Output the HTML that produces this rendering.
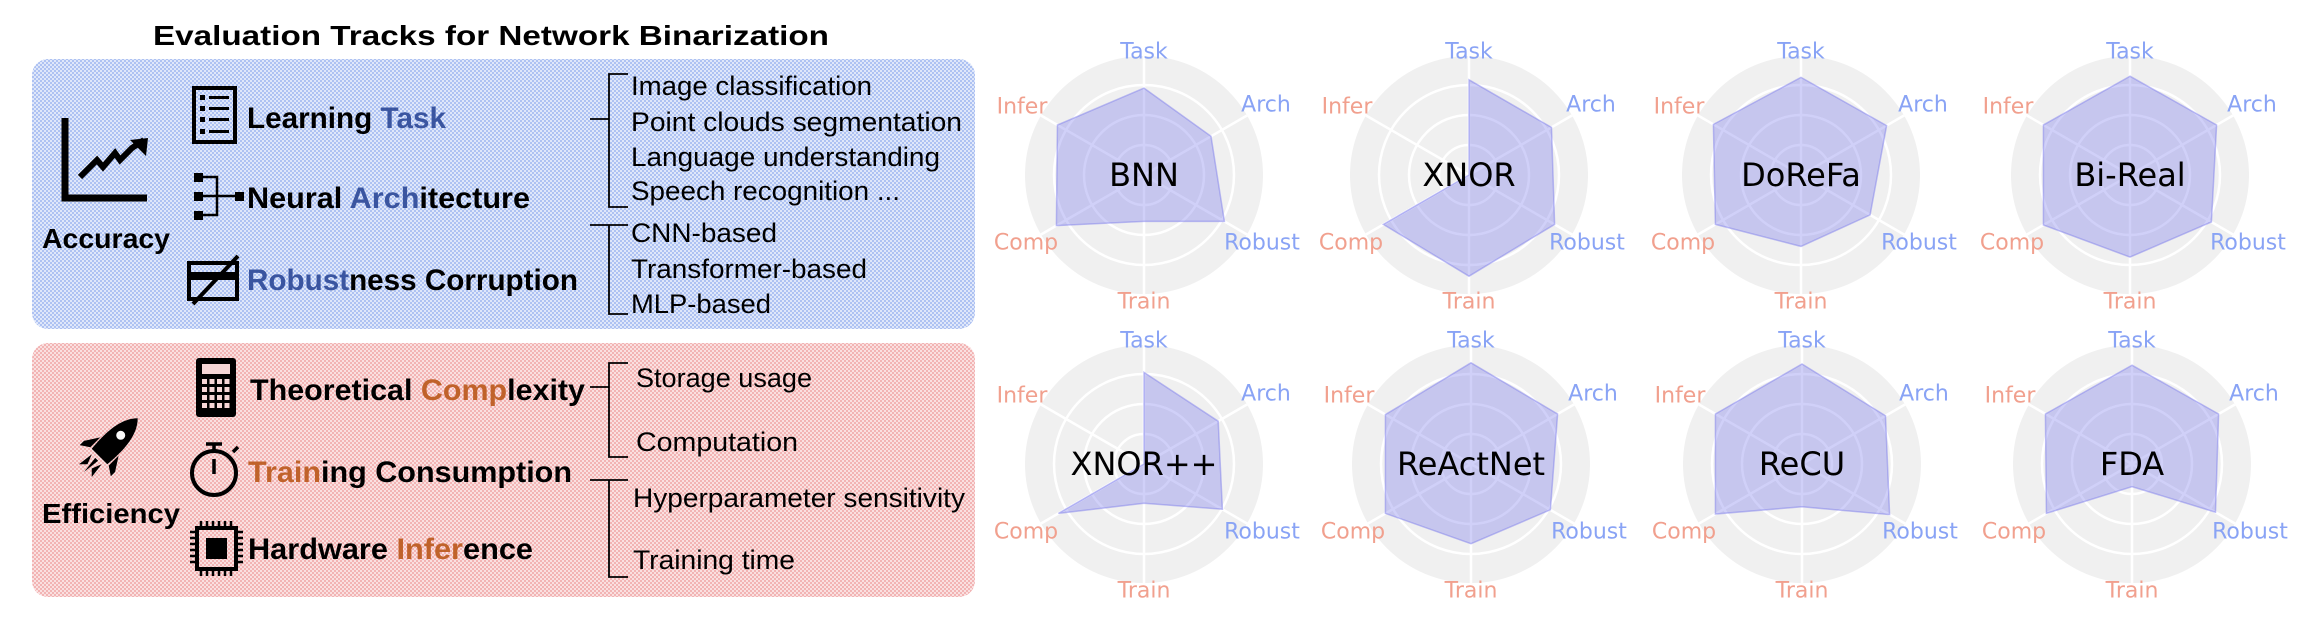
<!DOCTYPE html>
<html><head><meta charset="utf-8"><style>
html,body{margin:0;padding:0;background:#fff;}
svg{display:block;}
.L{font-family:"Liberation Sans Narrow","Liberation Sans",sans-serif;}
.R{font-family:"DejaVu Sans","Liberation Sans",sans-serif;}
.lb{fill:#89a3f5;font-size:22px;}
.lo{fill:#f1a08e;font-size:22px;}
.nm{fill:#000;font-size:32px;}
</style></head><body>
<svg width="2322" height="622" viewBox="0 0 2322 622" xmlns="http://www.w3.org/2000/svg">
<defs>
<pattern id="pb" width="4" height="4" patternUnits="userSpaceOnUse">
<rect width="4" height="4" fill="#dfe7fa"/><rect width="2" height="2" fill="#aec2f2"/><rect x="2" y="2" width="2" height="2" fill="#aec2f2"/></pattern>
<pattern id="pr" width="4" height="4" patternUnits="userSpaceOnUse">
<rect width="4" height="4" fill="#fae0e0"/><rect width="2" height="2" fill="#f2b4b4"/><rect x="2" y="2" width="2" height="2" fill="#f2b4b4"/></pattern>
<g id="bg">
<circle r="119" fill="#f0f0f0"/>
<circle r="30" fill="none" stroke="#fff" stroke-width="2.5"/>
<circle r="60" fill="none" stroke="#fff" stroke-width="2.5"/>
<circle r="90" fill="none" stroke="#fff" stroke-width="2.5"/>
<path d="M0,0V-119M0,0V119M0,0L103,-59.5M0,0L103,59.5M0,0L-103,59.5M0,0L-103,-59.5" stroke="#fff" stroke-width="2.5"/>
</g>
</defs>

<!-- LEFT PANEL -->
<text class="L" x="153" y="45" font-size="28" font-weight="bold" textLength="676" lengthAdjust="spacingAndGlyphs">Evaluation Tracks for Network Binarization</text>

<rect x="32" y="59" width="943" height="270" rx="16" fill="url(#pb)"/>
<rect x="32" y="343" width="943" height="254" rx="16" fill="url(#pr)"/>

<!-- accuracy icon -->
<polyline points="65,118 65,198 147,198" fill="none" stroke="#000" stroke-width="7"/>
<polyline points="80,177 97,160 103,167 115,153 120,160 132,148 144,140" fill="none" stroke="#000" stroke-width="6" stroke-linejoin="miter"/>
<polygon points="148,138 130,140 146,156" fill="#000"/>
<text class="L" x="42" y="248" font-size="28" font-weight="bold" textLength="128" lengthAdjust="spacingAndGlyphs">Accuracy</text>

<!-- learning task icon -->
<rect x="194" y="88" width="41" height="54" fill="none" stroke="#000" stroke-width="4"/>
<g fill="#000"><rect x="200" y="95" width="5" height="5"/><rect x="200" y="106" width="5" height="5"/><rect x="200" y="117" width="5" height="5"/><rect x="200" y="129" width="5" height="5"/>
<rect x="209" y="96" width="20" height="3"/><rect x="209" y="107" width="20" height="3"/><rect x="209" y="118" width="20" height="3"/><rect x="209" y="130" width="20" height="3"/></g>
<text class="L" x="247" y="128" font-size="30" font-weight="bold" textLength="199" lengthAdjust="spacingAndGlyphs">Learning <tspan fill="#3a55a0">Task</tspan></text>

<!-- neural arch icon -->
<g fill="#000"><rect x="194" y="173" width="9" height="9"/><rect x="194" y="192" width="9" height="9"/><rect x="194" y="211" width="9" height="9"/><rect x="235" y="192" width="9" height="9"/></g>
<path d="M203,177H217V215H203M203,196H235" fill="none" stroke="#000" stroke-width="2.5"/>
<text class="L" x="247" y="208" font-size="30" font-weight="bold" textLength="283" lengthAdjust="spacingAndGlyphs">Neural <tspan fill="#3a55a0">Arch</tspan>itecture</text>

<!-- robustness icon -->
<rect x="189" y="263" width="48" height="36" fill="none" stroke="#000" stroke-width="4"/>
<rect x="189" y="272" width="48" height="8" fill="#000"/>
<line x1="193" y1="304" x2="238" y2="256" stroke="#000" stroke-width="4"/>
<text class="L" x="247" y="290" font-size="30" font-weight="bold" textLength="331" lengthAdjust="spacingAndGlyphs"><tspan fill="#3a55a0">Robust</tspan>ness Corruption</text>

<!-- brackets blue -->
<path d="M628,74H609V207H628M590,119H609" fill="none" stroke="#000" stroke-width="1.8"/>
<path d="M590,225H628M609,225V314H628" fill="none" stroke="#000" stroke-width="1.8"/>
<g class="L" font-size="27">
<text x="631" y="95" textLength="241" lengthAdjust="spacingAndGlyphs">Image classification</text>
<text x="631" y="131" textLength="331" lengthAdjust="spacingAndGlyphs">Point clouds segmentation</text>
<text x="631" y="166" textLength="309" lengthAdjust="spacingAndGlyphs">Language understanding</text>
<text x="631" y="200" textLength="269" lengthAdjust="spacingAndGlyphs">Speech recognition ...</text>
<text x="631" y="242" textLength="146" lengthAdjust="spacingAndGlyphs">CNN-based</text>
<text x="631" y="278" textLength="236" lengthAdjust="spacingAndGlyphs">Transformer-based</text>
<text x="631" y="313" textLength="140" lengthAdjust="spacingAndGlyphs">MLP-based</text>
</g>

<!-- efficiency -->
<g transform="translate(108,448) rotate(45)">
<path d="M0,-42 C12,-30 13,-10 11,12 L-11,12 C-13,-10 -12,-30 0,-42Z" fill="#000"/>
<circle cx="0" cy="-18" r="4.5" fill="#fafafa"/>
<path d="M-13,-2 L-22,12 L-22,18 L-13,12Z M13,-2 L22,12 L22,18 L13,12Z" fill="#000"/>
<path d="M-7,16 L-9,32 L-3,26Z M7,16 L9,32 L3,26Z M-2,16 L0,34 L2,16Z" fill="#000"/>
</g>
<text class="L" x="42" y="523" font-size="28" font-weight="bold" textLength="138" lengthAdjust="spacingAndGlyphs">Efficiency</text>

<!-- calculator -->
<rect x="196" y="358" width="40" height="59" rx="3" fill="#000"/>
<rect x="202" y="364" width="28" height="10" fill="#f6d6d6"/>
<g fill="#f6d6d6">
<rect x="202" y="379" width="5" height="5"/><rect x="209.5" y="379" width="5" height="5"/><rect x="217" y="379" width="5" height="5"/><rect x="224.5" y="379" width="5" height="5"/>
<rect x="202" y="387" width="5" height="5"/><rect x="209.5" y="387" width="5" height="5"/><rect x="217" y="387" width="5" height="5"/><rect x="224.5" y="387" width="5" height="5"/>
<rect x="202" y="395" width="5" height="5"/><rect x="209.5" y="395" width="5" height="5"/><rect x="217" y="395" width="5" height="5"/><rect x="224.5" y="395" width="5" height="5"/>
<rect x="202" y="403" width="5" height="5"/><rect x="209.5" y="403" width="5" height="5"/><rect x="217" y="403" width="5" height="5"/><rect x="224.5" y="403" width="5" height="5"/></g>
<text class="L" x="250" y="400" font-size="30" font-weight="bold" textLength="335" lengthAdjust="spacingAndGlyphs">Theoretical <tspan fill="#c0622a">Comp</tspan>lexity</text>

<!-- stopwatch -->
<circle cx="214" cy="473" r="22" fill="none" stroke="#000" stroke-width="4"/>
<path d="M206,444H222M214,444V451M214,459V474M233,452L238,447" stroke="#000" stroke-width="3.5" fill="none"/>
<text class="L" x="248" y="482" font-size="30" font-weight="bold" textLength="324" lengthAdjust="spacingAndGlyphs"><tspan fill="#c0622a">Train</tspan>ing Consumption</text>

<!-- chip -->
<rect x="197" y="528" width="39" height="41" fill="none" stroke="#000" stroke-width="4"/>
<rect x="206" y="538" width="21" height="21" fill="#000"/>
<path d="M201,521V526M207,521V526M213,521V526M219,521V526M225,521V526M231,521V526M201,571V576M207,571V576M213,571V576M219,571V576M225,571V576M231,571V576M190,532H195M190,538H195M190,544H195M190,550H195M190,556H195M190,562H195M238,532H243M238,538H243M238,544H243M238,550H243M238,556H243M238,562H243" stroke="#000" stroke-width="2.5"/>
<text class="L" x="248" y="559" font-size="30" font-weight="bold" textLength="285" lengthAdjust="spacingAndGlyphs">Hardware <tspan fill="#c0622a">Infer</tspan>ence</text>

<!-- brackets red -->
<path d="M628,363H609V457H628M590,387H609" fill="none" stroke="#000" stroke-width="1.8"/>
<path d="M590,480H628M609,480V577H628" fill="none" stroke="#000" stroke-width="1.8"/>
<g class="L" font-size="27">
<text x="636" y="387" textLength="176" lengthAdjust="spacingAndGlyphs">Storage usage</text>
<text x="636" y="451" textLength="162" lengthAdjust="spacingAndGlyphs">Computation</text>
<text x="633" y="507" textLength="332" lengthAdjust="spacingAndGlyphs">Hyperparameter sensitivity</text>
<text x="633" y="569" textLength="162" lengthAdjust="spacingAndGlyphs">Training time</text>
</g>

<!-- RADARS -->
<g class="R" text-anchor="middle" dominant-baseline="central">
<g transform="translate(1144,175)">
<use href="#bg"/>
<polygon points="0,-86.9 67,-38.7 80.4,46.4 0,46.4 -87.6,50.6 -86.6,-50" fill="rgba(120,120,235,0.35)" stroke="rgba(120,120,235,0.45)" stroke-width="1.5"/>
<text class="lb" x="0" y="-123">Task</text><text class="lb" x="122" y="-70">Arch</text><text class="lb" x="118" y="68">Robust</text>
<text class="lo" x="0" y="127">Train</text><text class="lo" x="-118" y="68">Comp</text><text class="lo" x="-122" y="-68">Infer</text>
<text class="nm" x="0" y="0">BNN</text>
</g>
<g transform="translate(1469,175)">
<use href="#bg"/>
<polygon points="0,-95.2 82.5,-47.6 85.6,49.4 0,101.2 -85.6,49.4 0,0" fill="rgba(120,120,235,0.35)" stroke="rgba(120,120,235,0.45)" stroke-width="1.5"/>
<text class="lb" x="0" y="-123">Task</text><text class="lb" x="122" y="-70">Arch</text><text class="lb" x="118" y="68">Robust</text>
<text class="lo" x="0" y="127">Train</text><text class="lo" x="-118" y="68">Comp</text><text class="lo" x="-122" y="-68">Infer</text>
<text class="nm" x="0" y="0">XNOR</text>
</g>
<g transform="translate(1801,175)">
<use href="#bg"/>
<polygon points="0,-97.6 85.6,-49.4 69.1,39.9 0,71.4 -85.6,49.4 -87.6,-50.6" fill="rgba(120,120,235,0.35)" stroke="rgba(120,120,235,0.45)" stroke-width="1.5"/>
<text class="lb" x="0" y="-123">Task</text><text class="lb" x="122" y="-70">Arch</text><text class="lb" x="118" y="68">Robust</text>
<text class="lo" x="0" y="127">Train</text><text class="lo" x="-118" y="68">Comp</text><text class="lo" x="-122" y="-68">Infer</text>
<text class="nm" x="0" y="0">DoReFa</text>
</g>
<g transform="translate(2130,175)">
<use href="#bg"/>
<polygon points="0,-98.8 86.6,-50 81.4,47 0,82.1 -86.6,50 -86.6,-50" fill="rgba(120,120,235,0.35)" stroke="rgba(120,120,235,0.45)" stroke-width="1.5"/>
<text class="lb" x="0" y="-123">Task</text><text class="lb" x="122" y="-70">Arch</text><text class="lb" x="118" y="68">Robust</text>
<text class="lo" x="0" y="127">Train</text><text class="lo" x="-118" y="68">Comp</text><text class="lo" x="-122" y="-68">Infer</text>
<text class="nm" x="0" y="0">Bi-Real</text>
</g>
<g transform="translate(1144,464)">
<use href="#bg"/>
<polygon points="0,-91.6 74.2,-42.8 78.4,45.2 0,39.3 -85.6,49.4 0,0" fill="rgba(120,120,235,0.35)" stroke="rgba(120,120,235,0.45)" stroke-width="1.5"/>
<text class="lb" x="0" y="-123">Task</text><text class="lb" x="122" y="-70">Arch</text><text class="lb" x="118" y="68">Robust</text>
<text class="lo" x="0" y="127">Train</text><text class="lo" x="-118" y="68">Comp</text><text class="lo" x="-122" y="-68">Infer</text>
<text class="nm" x="0" y="0">XNOR++</text>
</g>
<g transform="translate(1471,464)">
<use href="#bg"/>
<polygon points="0,-101.2 86.6,-50 79.4,45.8 0,79.7 -85.6,49.4 -85.6,-49.4" fill="rgba(120,120,235,0.35)" stroke="rgba(120,120,235,0.45)" stroke-width="1.5"/>
<text class="lb" x="0" y="-123">Task</text><text class="lb" x="122" y="-70">Arch</text><text class="lb" x="118" y="68">Robust</text>
<text class="lo" x="0" y="127">Train</text><text class="lo" x="-118" y="68">Comp</text><text class="lo" x="-122" y="-68">Infer</text>
<text class="nm" x="0" y="0">ReActNet</text>
</g>
<g transform="translate(1802,464)">
<use href="#bg"/>
<polygon points="0,-100 83.5,-48.2 87.6,50.6 0,42.8 -86.6,50 -86.6,-50" fill="rgba(120,120,235,0.35)" stroke="rgba(120,120,235,0.45)" stroke-width="1.5"/>
<text class="lb" x="0" y="-123">Task</text><text class="lb" x="122" y="-70">Arch</text><text class="lb" x="118" y="68">Robust</text>
<text class="lo" x="0" y="127">Train</text><text class="lo" x="-118" y="68">Comp</text><text class="lo" x="-122" y="-68">Infer</text>
<text class="nm" x="0" y="0">ReCU</text>
</g>
<g transform="translate(2132,464)">
<use href="#bg"/>
<polygon points="0,-98.8 86.6,-50 83.5,48.2 0,22.6 -85.6,49.4 -86.6,-50" fill="rgba(120,120,235,0.35)" stroke="rgba(120,120,235,0.45)" stroke-width="1.5"/>
<text class="lb" x="0" y="-123">Task</text><text class="lb" x="122" y="-70">Arch</text><text class="lb" x="118" y="68">Robust</text>
<text class="lo" x="0" y="127">Train</text><text class="lo" x="-118" y="68">Comp</text><text class="lo" x="-122" y="-68">Infer</text>
<text class="nm" x="0" y="0">FDA</text>
</g>
</g>
</svg>
</body></html>
